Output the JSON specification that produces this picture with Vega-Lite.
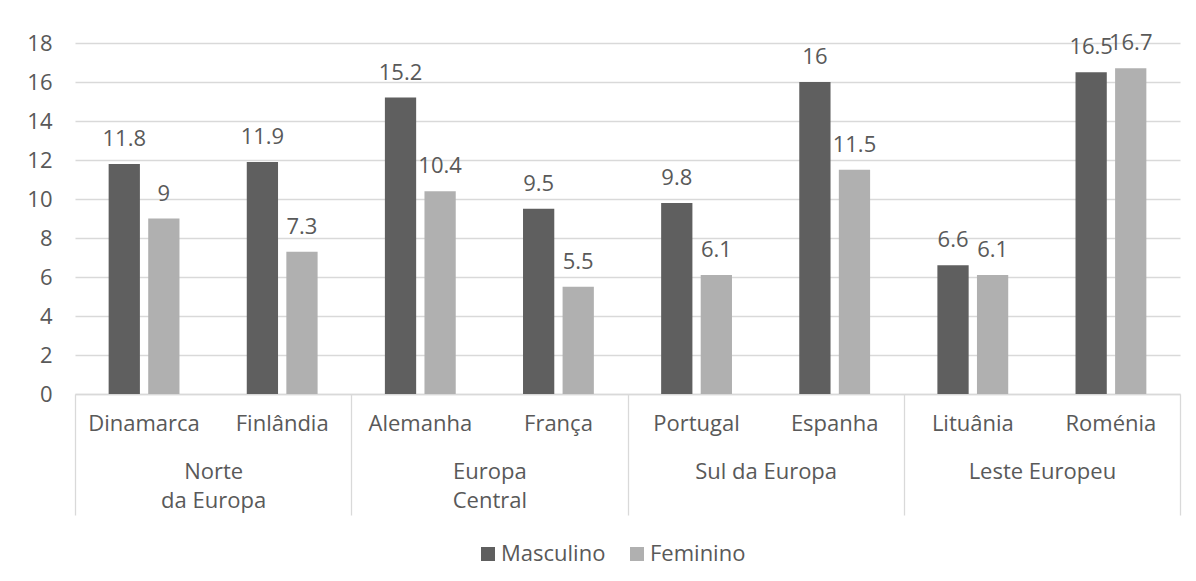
{
  "$schema": "https://vega.github.io/schema/vega-lite/v6.json",
  "width": 1105,
  "height": 351,
  "autosize": {"type": "none"},
  "padding": {"left": 75, "top": 43, "right": 16, "bottom": 187},
  "background": "white",
  "config": {
    "view": {"stroke": null},
    "font": "Open Sans",
    "text": {"font": "Open Sans"},
    "axisY": {
      "tickCount": 20, "labelOverlap": false,
      "grid": true, "gridColor": "#d9d9d9", "gridWidth": 1.3,
      "domain": false, "ticks": false, "labelPadding": 23,
      "labelFontSize": 22, "labelColor": "#595959", "labelFont": "Open Sans"
    }
  },
  "data": {
    "values": [
      {"region": "Norte da Europa", "country": "Dinamarca", "sex": "Masculino", "value": 11.8},
      {"region": "Norte da Europa", "country": "Dinamarca", "sex": "Feminino", "value": 9},
      {"region": "Norte da Europa", "country": "Finlândia", "sex": "Masculino", "value": 11.9},
      {"region": "Norte da Europa", "country": "Finlândia", "sex": "Feminino", "value": 7.3},
      {"region": "Europa Central", "country": "Alemanha", "sex": "Masculino", "value": 15.2},
      {"region": "Europa Central", "country": "Alemanha", "sex": "Feminino", "value": 10.4},
      {"region": "Europa Central", "country": "França", "sex": "Masculino", "value": 9.5},
      {"region": "Europa Central", "country": "França", "sex": "Feminino", "value": 5.5},
      {"region": "Sul da Europa", "country": "Portugal", "sex": "Masculino", "value": 9.8},
      {"region": "Sul da Europa", "country": "Portugal", "sex": "Feminino", "value": 6.1},
      {"region": "Sul da Europa", "country": "Espanha", "sex": "Masculino", "value": 16},
      {"region": "Sul da Europa", "country": "Espanha", "sex": "Feminino", "value": 11.5},
      {"region": "Leste Europeu", "country": "Lituânia", "sex": "Masculino", "value": 6.6},
      {"region": "Leste Europeu", "country": "Lituânia", "sex": "Feminino", "value": 6.1},
      {"region": "Leste Europeu", "country": "Roménia", "sex": "Masculino", "value": 16.5},
      {"region": "Leste Europeu", "country": "Roménia", "sex": "Feminino", "value": 16.7}
    ]
  },
  "layer": [
    {
      "layer": [
        {
          "mark": {"type": "bar"},
          "encoding": {
            "x": {
              "field": "country", "type": "nominal", "sort": null,
              "scale": {"paddingInner": 0, "paddingOuter": 0},
              "axis": {
                "orient": "bottom", "title": null, "labelAngle": 0, "ticks": false,
                "domain": true, "domainColor": "#d9d9d9", "domainWidth": 1.3,
                "labelFontSize": 22, "labelColor": "#595959", "labelPadding": 19,
                "labelFont": "Open Sans"
              }
            },
            "xOffset": {
              "field": "sex", "type": "nominal", "sort": ["Masculino", "Feminino"],
              "scale": {"paddingInner": 0.21, "paddingOuter": 0.85}
            },
            "y": {
              "field": "value", "type": "quantitative",
              "scale": {"domain": [0, 18], "nice": false},
              "axis": {"title": null, "tickCount": 20, "values": [0, 2, 4, 6, 8, 10, 12, 14, 16, 18]}
            },
            "color": {
              "field": "sex", "type": "nominal", "sort": ["Masculino", "Feminino"],
              "scale": {"range": ["#5f5f5f", "#b0b0b0"]},
              "legend": {
                "title": null, "orient": "none", "direction": "horizontal",
                "legendX": 402, "legendY": 500,
                "symbolType": "square", "symbolSize": 196, "symbolStrokeWidth": 0,
                "labelFontSize": 22, "labelColor": "#595959", "labelFont": "Open Sans",
                "columnPadding": 20, "labelOffset": 2
              }
            }
          }
        },
        {
          "mark": {"type": "text", "baseline": "alphabetic", "dy": -18, "fontSize": 22, "color": "#595959", "font": "Open Sans"},
          "encoding": {
            "x": {"field": "country", "type": "nominal", "sort": null},
            "xOffset": {"field": "sex", "type": "nominal", "sort": ["Masculino", "Feminino"]},
            "y": {"field": "value", "type": "quantitative", "axis": {"title": null, "tickCount": 20, "values": [0, 2, 4, 6, 8, 10, 12, 14, 16, 18]}},
            "text": {"field": "value", "type": "nominal"}
          }
        }
      ]
    },
    {
      "mark": {"type": "point", "opacity": 0},
      "encoding": {
        "x": {
          "field": "region", "type": "nominal", "sort": null,
          "scale": {"paddingInner": 0, "paddingOuter": 0},
          "axis": {
            "orient": "bottom", "title": null, "labelAngle": 0, "domain": false,
            "ticks": true, "tickBand": "extent", "tickSize": 121, "tickColor": "#d9d9d9", "tickWidth": 1.3,
            "labelPadding": -54, "labelFontSize": 22, "labelColor": "#595959", "labelFont": "Open Sans",
            "labelLineHeight": 29,
            "labelExpr": "datum.label == 'Norte da Europa' ? ['Norte', 'da Europa'] : datum.label == 'Europa Central' ? ['Europa', 'Central'] : datum.label"
          }
        },
        "y": {"field": "value", "type": "quantitative", "axis": {"title": null, "tickCount": 20, "values": [0, 2, 4, 6, 8, 10, 12, 14, 16, 18]}}
      }
    }
  ],
  "resolve": {"scale": {"x": "independent"}, "axis": {"x": "independent"}}
}
